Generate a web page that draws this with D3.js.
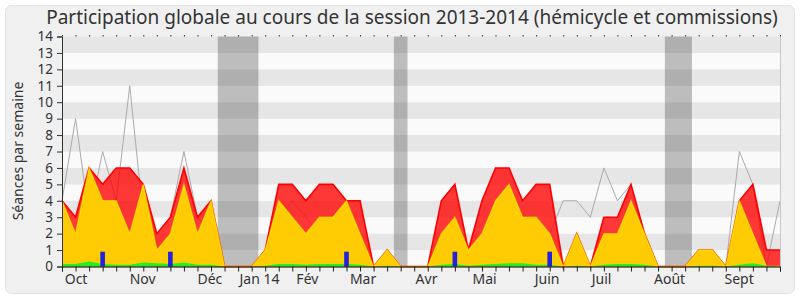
<!DOCTYPE html>
<html>
<head>
<meta charset="utf-8">
<script src="https://cdn.jsdelivr.net/npm/d3@7"></script>
<style>
body { margin: 0; background: #fff; }
text { font-family: "Noto Sans", sans-serif; }
</style>
</head>
<body>
<div id="chart-area"></div>
<script>
// valeurs par semaine (54 semaines, oct 2013 -> sept 2014)
const commissions = [4,3,6,5,6,6,5,2,3,6,3,4,0,0,0,1,5,5,4,5,5,4,4,0,1,0,0,0,4,5,1,4,6,6,4,5,5,0,2,0,3,3,5,2,0,0,0,1,1,0,4,5,1,1];
const hemicycle   = [4,2,6,4,4,2,5,1,2,5,2,4,0,0,0,1,4,3,2,3,3,4,2,0,1,0,0,0,2,3,1,2,4,5,3,3,2,0,2,0,2,2,4,2,0,0,0,1,1,0,4,2,0,0];
const interventions = [0.15,0.15,0.3,0.15,0.1,0.1,0.25,0.2,0.15,0.25,0.1,0.1,0,0,0,0.05,0.15,0.15,0.1,0.15,0.15,0.15,0.1,0,0.05,0,0,0,0.1,0.15,0.05,0.1,0.15,0.2,0.2,0.1,0.1,0,0.05,0,0.1,0.15,0.15,0.1,0,0,0,0.05,0.05,0,0.1,0.2,0.05,0];
const mediane = [4,9,3,7,4,11,3,2,3,7,3,2,0,0,0,1,3,4,3,2,2,4,2,0,1,0,0,0,2,3,0,1,2,3,3,3,2,4,4,3,6,4,5,2,0,0,0,1,1,0,7,5,0,4];
const questionsWeeks = [3,8,21,29,36];
const questionsValue = 0.9;
const vacances = [[11.5,14.5],[24.5,25.5],[44.5,46.5]];
const monthLabels = ["Oct","Nov","Déc","Jan 14","Fév","Mar","Avr","Mai","Juin","Juil","Août","Sept"];
const monthPos = [0.2,5,10,13.1,17.3,21.25,26.1,30.3,34.9,39.1,43.7,48.9];
const yTicks = d3.range(0, 15);

const width = 800;
const height = 300;

const svg = d3.select("#chart-area")
    .append("svg")
    .attr("width", width)
    .attr("height", height);

// fond du panneau
svg.append("rect")
    .attr("x", 5.5).attr("y", 5.5)
    .attr("width", 789).attr("height", 288)
    .attr("rx", 6)
    .attr("fill", "#f0f0f0")
    .attr("stroke", "#e2e2e2");

const x = d3.scaleLinear().domain([0, 53]).range([62, 780]);
const y = d3.scaleLinear().domain([0, 14]).range([266.5, 36.5]);

// bandes horizontales
svg.selectAll(".band")
    .data(d3.range(0, 14))
    .enter()
    .append("rect")
    .attr("x", x(0))
    .attr("y", d => y(d + 1))
    .attr("width", x(53) - x(0))
    .attr("height", d => y(d) - y(d + 1))
    .attr("fill", d => d % 2 === 1 ? "#e6e6e6" : "#fafafa");

// vacances parlementaires
svg.selectAll(".vac")
    .data(vacances)
    .enter()
    .append("rect")
    .attr("x", d => x(d[0]))
    .attr("y", y(14))
    .attr("width", d => x(d[1]) - x(d[0]))
    .attr("height", y(0) - y(14))
    .attr("fill", "rgba(50,50,50,0.3)");

const idx = d3.range(commissions.length);

svg.append("path")
    .datum(idx)
    .attr("fill", "none")
    .attr("stroke", "#aaaaaa")
    .attr("stroke-width", 1)
    .attr("d", d3.line().x(i => x(i)).y(i => y(mediane[i])));

function area(vals) {
    return d3.area().x(i => x(i)).y0(y(0)).y1(i => y(vals[i]));
}
function line(vals) {
    return d3.line().x(i => x(i)).y(i => y(vals[i]));
}

svg.append("path").datum(idx)
    .attr("fill", "#ff0000").attr("fill-opacity", 0.78)
    .attr("d", area(commissions));
svg.append("path").datum(idx)
    .attr("fill", "none").attr("stroke", "#ff0000").attr("stroke-width", 1.6)
    .attr("d", line(commissions));

svg.append("path").datum(idx)
    .attr("fill", "#ffd400").attr("fill-opacity", 0.95)
    .attr("d", area(hemicycle));
svg.append("path").datum(idx)
    .attr("fill", "none").attr("stroke", "#ffff00").attr("stroke-opacity", 0.55).attr("stroke-width", 1.4)
    .attr("d", line(hemicycle));

svg.append("path").datum(idx)
    .attr("fill", "#22ee22")
    .attr("d", area(interventions));

svg.selectAll(".question")
    .data(questionsWeeks)
    .enter()
    .append("rect")
    .attr("class", "question")
    .attr("x", d => x(d) - 2.3)
    .attr("y", y(questionsValue))
    .attr("width", 4.6)
    .attr("height", y(0) - y(questionsValue))
    .attr("fill", "#2222dd");

// bord droit
svg.append("line")
    .attr("x1", 780.5).attr("x2", 780.5)
    .attr("y1", y(14)).attr("y2", y(0))
    .attr("stroke", "#c8c8c8");

// axe x
const xAxis = svg.append("g")
    .attr("transform", `translate(0,${y(0)})`)
    .call(d3.axisBottom(x).tickValues(idx).tickSize(5).tickFormat(""));
xAxis.select(".domain").attr("stroke", "#000");
xAxis.selectAll(".tick line").attr("stroke", "#222");

svg.append("g")
    .attr("transform", `translate(0,${y(14)})`)
    .call(d3.axisTop(x).tickValues(idx).tickSize(1.5).tickFormat(""))
    .call(g => g.select(".domain").remove())
    .selectAll(".tick line").attr("stroke", "#333");

svg.selectAll(".month")
    .data(monthLabels)
    .enter()
    .append("text")
    .attr("x", (d, i) => x(monthPos[i]))
    .attr("y", 284)
    .attr("font-size", 14)
    .attr("fill", "#333")
    .text(d => d);

// axe y
const yAxis = svg.append("g")
    .attr("transform", `translate(${x(0)},0)`)
    .call(d3.axisLeft(y).tickValues(yTicks).tickSize(5).tickPadding(4));
yAxis.select(".domain").attr("stroke", "#333");
yAxis.selectAll(".tick line").attr("stroke", "#333");
yAxis.selectAll(".tick text")
    .attr("font-size", 13.5)
    .attr("font-family", "Noto Sans, sans-serif")
    .attr("fill", "#333");

svg.append("text")
    .attr("transform", "translate(23,151) rotate(-90)")
    .attr("text-anchor", "middle")
    .attr("font-size", 14)
    .attr("fill", "#333")
    .text("Séances par semaine");

svg.append("text")
    .attr("x", 412)
    .attr("y", 24)
    .attr("text-anchor", "middle")
    .attr("font-size", 19)
    .attr("fill", "#333")
    .text("Participation globale au cours de la session 2013-2014 (hémicycle et commissions)");
</script>
</body>
</html>
